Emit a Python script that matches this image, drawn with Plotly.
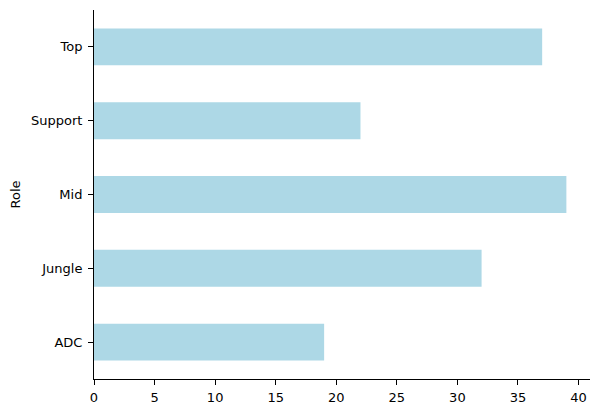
import plotly.graph_objects as go

roles = ["ADC", "Jungle", "Mid", "Support", "Top"]
counts = [19, 32, 39, 22, 37]
x_ticks = [0, 5, 10, 15, 20, 25, 30, 35, 40]

fig = go.Figure(go.Bar(
    x=counts, y=roles, orientation="h", width=0.5,
    marker=dict(color="#add8e6", line=dict(width=0)),
))
# page body has an 8px default margin, so the figure is sized to fit the window
fig.update_layout(
    width=592, height=405,
    margin=dict(l=86, r=10, t=2, b=34, autoexpand=False),
    plot_bgcolor="white", paper_bgcolor="white",
    font=dict(family="DejaVu Sans", size=13, color="black"),
    showlegend=False,
)
fig.update_xaxes(
    range=[0, 40.95], tickvals=x_ticks, ticks="outside", ticklen=5, tickcolor="black",
    showline=True, linecolor="black", linewidth=1, showgrid=False, zeroline=False,
    automargin=False, ticklabelstandoff=1,
)
fig.update_yaxes(
    range=[-0.5, 4.5], categoryorder="array", categoryarray=roles,
    ticks="outside", ticklen=5, tickcolor="black",
    showline=True, linecolor="black", linewidth=1, showgrid=False, zeroline=False,
    title=dict(text="Role", standoff=8, font=dict(size=13)),
    automargin=False, ticklabelstandoff=3,
)
fig.write_html("out.html")
